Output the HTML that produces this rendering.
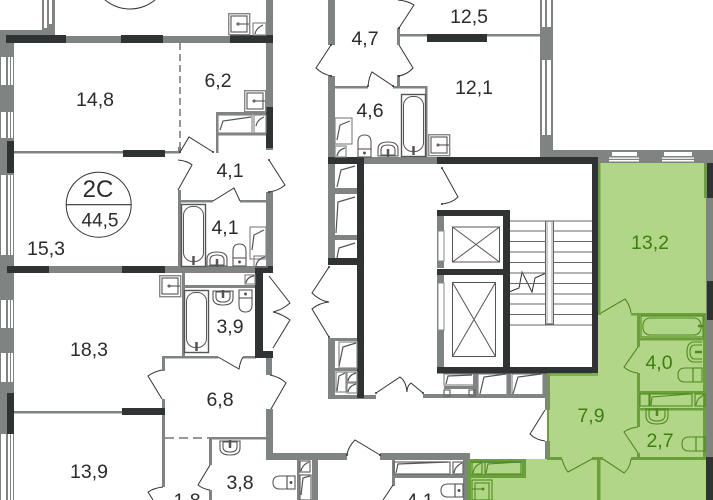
<!DOCTYPE html>
<html><head><meta charset="utf-8"><style>
html,body{margin:0;padding:0;background:#fff;width:713px;height:500px;overflow:hidden}
svg{display:block}
text{font-family:"Liberation Sans",sans-serif;font-size:19.5px;fill:#2b2b2b;text-anchor:middle}
.g text,text.g{fill:#3f7e10}
</style></head><body>
<svg width="713" height="500" viewBox="0 0 713 500" xmlns="http://www.w3.org/2000/svg">
<defs>
<g id="bath" fill="none"><rect x=".5" y=".5" width="24" height="62" stroke-width="1.4"/><rect x="2.5" y="2.5" width="20" height="55" rx="9" stroke-width="1"/><path d="M12.5 52v9" stroke-width="2.5"/></g>
<g id="sink" fill="none" stroke-width="1.1"><path d="M1 15V8Q1 1 11 1T21 8v7z"/><path d="M4 14V9Q4 4 11 4T18 9v5z"/><path d="M11 8v8" stroke-width="2.5"/></g>
<g id="sinkd" fill="none" stroke-width="1.1"><path d="M1 1V8Q1 15 11 15T21 8V1z"/><path d="M4 2V7Q4 12 11 12T18 7V2z"/><path d="M11 0v8" stroke-width="2.5"/></g>
<g id="toil" fill="none" stroke-width="1.1"><path d="M1 15V8Q1 1 7.5 1T14 8v7z"/><rect x="1" y="15" width="13" height="8"/><circle cx="7.5" cy="19" r=".9" fill="#333"/></g>
<g id="toilh" fill="none" stroke-width="1.1"><path d="M15 1H8Q1 1 1 7.5T8 14h7z"/><rect x="15" y="1" width="8" height="13"/><circle cx="19" cy="7.5" r=".9" fill="#333"/></g>
<g id="bsink" fill="none"><rect x=".7" y=".7" width="21" height="21" stroke="#888" stroke-width="1.4"/><rect x="3" y="3" width="16" height="16" stroke="#444" stroke-width="1"/><path d="M11 11h10" stroke="#444" stroke-width="1"/><circle cx="10" cy="11" r="1" stroke="#444"/></g>
</defs>
<rect width="713" height="500" fill="#fff"/>

<!-- green apartment -->
<path d="M598 163H706V500H467V459H547V373H598Z" fill="#b1d688"/>

<!-- gray walls -->
<g fill="#7f8382">
<rect x="0" y="30" width="14" height="470"/>
<rect x="0" y="30" width="54" height="6"/>
<rect x="42" y="0" width="13" height="36"/>
<rect x="66" y="36" width="55" height="7"/><rect x="163" y="36" width="67" height="7"/>
<rect x="266" y="0" width="7" height="150"/>
<rect x="266" y="192" width="7" height="76"/>
<rect x="266" y="357" width="6" height="18"/>
<rect x="266" y="409" width="7" height="51"/>
<rect x="266" y="453" width="81" height="7"/>
<rect x="380" y="453" width="90" height="7"/>
<rect x="14" y="151" width="166" height="2.5"/>
<rect x="178" y="147" width="3" height="6"/>
<rect x="178" y="190" width="3" height="78"/>
<rect x="178" y="200" width="35" height="2.5"/><rect x="240" y="200" width="27" height="2.5"/>
<rect x="216" y="113" width="2.5" height="40"/>
<rect x="216" y="112" width="52" height="2.5"/><rect x="216" y="133" width="52" height="2.5"/>
<rect x="49" y="266" width="73" height="7"/><rect x="165" y="266" width="90" height="7"/>
<rect x="182" y="273" width="3" height="84"/>
<rect x="184" y="285" width="71" height="3"/>
<rect x="162" y="356" width="56" height="2.5"/><rect x="243" y="356" width="13" height="2.5"/>
<rect x="162" y="356" width="3" height="15"/><rect x="162" y="399" width="3" height="88"/>
<rect x="14" y="411" width="108" height="2.5"/>
<rect x="209" y="437" width="58" height="2.5"/>
<rect x="209" y="437" width="3" height="28"/><rect x="209" y="490" width="3" height="10"/>
<rect x="297" y="460" width="2.5" height="40"/><rect x="312" y="460" width="6" height="40"/>
<!-- center left -->
<rect x="328" y="0" width="7" height="45"/><rect x="328" y="76" width="7" height="82"/>
<rect x="328" y="164" width="7" height="94"/>
<rect x="335" y="188" width="22" height="6"/><rect x="335" y="235" width="22" height="5"/>
<rect x="328" y="338" width="7" height="60"/>
<rect x="335" y="338" width="22" height="3"/><rect x="335" y="368" width="22" height="3"/>
<rect x="328" y="395" width="48" height="4"/><rect x="423" y="394" width="124" height="4"/>
<rect x="335" y="86" width="33" height="2.5"/><rect x="393" y="86" width="34" height="2.5"/>
<rect x="397" y="75" width="3" height="12"/><rect x="397" y="28" width="3" height="17"/>
<rect x="400" y="34" width="140" height="2.5"/>
<rect x="425" y="86" width="2.5" height="72"/>
<rect x="540" y="0" width="13" height="158"/>
<rect x="540" y="150" width="173" height="13"/>
<rect x="364" y="157" width="73" height="7"/>
<rect x="437" y="216" width="7" height="52"/><rect x="437" y="275" width="7" height="92"/>
<rect x="473" y="373" width="5" height="23"/><rect x="507" y="373" width="4" height="23"/><rect x="543" y="373" width="5" height="23"/>
<rect x="444" y="386" width="30" height="3"/>
<rect x="545" y="373" width="5" height="37"/><rect x="545" y="441" width="5" height="18"/>
<rect x="392" y="460" width="3" height="26"/>
<rect x="392" y="474" width="72" height="4"/>
<rect x="463" y="460" width="5" height="40"/>
<rect x="706" y="150" width="7" height="350"/>
</g>

<!-- windows -->
<g fill="#fff">
<path d="M1 57h5v28H1zM8 57h2v28H8zM11 57h2v28h-2z"/>
<path d="M1 112h5v26H1zM8 112h2v26H8zM11 112h2v26h-2z"/>
<path d="M1 175h5v80H1zM8 175h2v80H8zM11 175h2v80h-2z"/>
<path d="M1 300h5v28H1zM8 300h2v28H8zM11 300h2v28h-2z"/>
<path d="M1 353h5v29H1zM8 353h2v29H8zM11 353h2v29h-2z"/>
<path d="M1 434h5v66H1zM8 434h2v66H8zM11 434h2v66h-2z"/>
<path d="M44 0h3v28h-3zM49 0h3v24h-3z"/>
<path d="M542 0h3v27h-3zM547 0h4v27h-4zM542 60h3v75h-3zM547 60h4v75h-4z"/>
<rect x="612" y="152" width="25" height="4"/><rect x="609" y="157.500" width="30" height="1.300"/><rect x="609" y="160" width="30" height="1.500"/>
<rect x="664" y="152" width="28" height="4"/><rect x="662" y="157.500" width="32" height="1.300"/><rect x="662" y="160" width="32" height="1.500"/>
<rect x="438" y="231" width="6" height="30"/><rect x="438" y="283" width="6" height="47"/>
</g>

<!-- dark walls -->
<g fill="#2f3333">
<rect x="6" y="35" width="60" height="8"/><rect x="121" y="35" width="42" height="8"/><rect x="230" y="35" width="43" height="8"/>
<rect x="266" y="107" width="7" height="41"/>
<rect x="7" y="141" width="7" height="32"/>
<rect x="123" y="150" width="42" height="7"/>
<rect x="7" y="266" width="42" height="7"/><rect x="122" y="266" width="43" height="7"/>
<rect x="255" y="266" width="18" height="7"/><rect x="255" y="266" width="8" height="92"/><rect x="255" y="351" width="18" height="7"/>
<rect x="122" y="408" width="43" height="7"/>
<rect x="7" y="393" width="7" height="41"/>
<rect x="427" y="34" width="60" height="8"/>
<rect x="328" y="157" width="36" height="7"/><rect x="437" y="157" width="161" height="7"/>
<rect x="357" y="157" width="7" height="241"/>
<rect x="328" y="258" width="29" height="7"/>
<rect x="437" y="210" width="73" height="6"/><rect x="503" y="210" width="7" height="163"/>
<rect x="437" y="269" width="66" height="6"/>
<rect x="437" y="367" width="155" height="6.500"/><rect x="592" y="164" width="6" height="209"/>
<rect x="707" y="163" width="6" height="35"/><rect x="707" y="281" width="6" height="39"/><rect x="706" y="457" width="7" height="43"/>
</g>

<!-- dashed -->
<path d="M180 43V147" stroke="#777" stroke-width="1.500" stroke-dasharray="7 4" fill="none"/>
<path d="M165 438H209" stroke="#777" stroke-width="1.500" stroke-dasharray="9 5" fill="none"/>

<!-- doors -->
<g fill="none" stroke="#333" stroke-width="1">
<path d="M180 152L189 137L213 152"/>
<path d="M178 160Q188 161 192 165L178 190"/>
<path d="M269 160L285 185Q278 191 269 192"/>
<path d="M213 201L234 188L240 201"/>
<path d="M269 276L290 303Q282 310 273 312Q282 314 290 320L273 348"/>
<path d="M218 357L239 369Q240 362 243 357"/>
<path d="M162 370Q153 372 148 376L162 399"/>
<path d="M270 375Q280 377 286 383L271 409"/>
<path d="M210 465L198 485Q203 489 210 490"/>
<path d="M163 487Q154 488 148 492L153 500"/>
<path d="M331 45L316 68Q322 74 331 76"/>
<path d="M399 28L414 5Q408 1 398 0"/>
<path d="M399 45L413 68Q408 74 399 76"/>
<path d="M368 86Q369 77 372 72L393 86"/>
<path d="M442 168L458 197Q452 203 442 204"/>
<path d="M329 267L312 293Q320 301 329 302Q319 303 312 309L329 337"/>
<path d="M376 393L400 377Q406 381 407 392Q407 386 411 383L423 393"/>
<path d="M545 410L530 434Q536 440 545 441"/>
<path d="M347 455Q348 447 355 440L380 455"/>
<path d="M393 485L383 500"/>
<path d="M509 292L519 288L522 272L532 292L535 278L546 273"/>
</g>
<g fill="#333"><circle cx="180" cy="152" r="1"/><circle cx="213" cy="152" r="1"/><circle cx="269" cy="160" r="1"/><circle cx="269" cy="192" r="1"/><circle cx="331" cy="45" r="1"/><circle cx="331" cy="76" r="1"/><circle cx="399" cy="28" r="1"/><circle cx="399" cy="76" r="1"/><circle cx="368" cy="86" r="1"/><circle cx="393" cy="86" r="1"/><circle cx="376" cy="393" r="1"/><circle cx="423" cy="393" r="1"/><circle cx="329" cy="267" r="1"/><circle cx="329" cy="337" r="1"/><circle cx="442" cy="168" r="1"/><circle cx="442" cy="204" r="1"/><circle cx="347" cy="455" r="1"/><circle cx="380" cy="455" r="1"/></g>

<!-- top circle -->
<circle cx="130" cy="-30" r="39" fill="none" stroke="#333" stroke-width="1"/>

<!-- fixtures -->
<g stroke="#555">
<use href="#bsink" x="228" y="13"/>
<use href="#bsink" x="244" y="90"/>
<use href="#bsink" x="159" y="275"/>
<use href="#bsink" x="428" y="134"/>
<use href="#bath" x="181" y="204"/>
<use href="#bath" x="184" y="290"/>
<use href="#bath" x="401" y="94"/>
<use href="#sink" x="206" y="251"/>
<use href="#sink" x="377" y="141"/>
<use href="#sinkd" x="212" y="290"/>
<use href="#sinkd" x="219" y="440"/>
<use href="#toil" x="232" y="243"/>
<use href="#toil" x="357" y="134"/>
<use href="#toil" x="238" y="290" transform="rotate(180 245.500 301.500)"/>
<use href="#toilh" x="272" y="475"/>
<use href="#toilh" x="440" y="483"/>
<g fill="none" stroke-width="1.200">
<rect x="253" y="23" width="13" height="12" stroke="#888"/><path d="M255 34Q256 28 263 25"/>
<rect x="218" y="115" width="34" height="18" stroke="#888"/><path d="M220 130L223 121L251 117"/>
<rect x="254" y="115" width="12" height="18" stroke="#888"/><path d="M256 126Q257 120 264 117"/>
<rect x="250" y="227" width="16" height="32" stroke="#888"/><path d="M252 250L254 235L264 230"/>
<rect x="254" y="256" width="13" height="11" stroke="#888"/><path d="M256 266Q257 259 265 257"/>
<rect x="245" y="275" width="10" height="9" stroke="#888"/><path d="M246 283Q247 277 254 276"/>
<rect x="335" y="118" width="17" height="26" stroke="#888"/><path d="M337 140L340 125L350 121"/>
<rect x="335" y="146" width="11" height="11" stroke="#888"/><path d="M337 156Q338 150 345 148"/>
<path d="M337 187L341 170L355 166"/>
<path d="M336 233L338 202L355 197"/>
<path d="M337 258L339 248L355 243"/>
<rect x="339" y="342" width="18" height="26" stroke="#888"/><path d="M339 366L343 347L356 343"/>
<rect x="336" y="372" width="10" height="20" stroke="#888"/><path d="M337 391L339 376L345 373"/>
<rect x="347" y="372" width="10" height="10" stroke="#888"/><path d="M348 381Q349 375 356 373"/>
<rect x="347" y="383" width="10" height="10" stroke="#888"/><path d="M348 392Q349 386 356 384"/>
<rect x="444" y="374" width="30" height="11" stroke="#888"/><path d="M446 384L448 376L472 375"/>
<rect x="444" y="390" width="6" height="6" stroke="#666"/><rect x="469" y="390" width="6" height="6" stroke="#666"/>
<rect x="478" y="374" width="29" height="21" stroke="#888"/><path d="M480 394L484 377L506 374"/>
<rect x="512" y="374" width="31" height="21" stroke="#888"/><path d="M513 394L518 377L541 374"/>
<rect x="394" y="462" width="56" height="12" stroke="#666"/><path d="M396 473L398 464L448 462"/>
<rect x="453" y="462" width="10" height="12" stroke="#666"/><path d="M454 473Q455 466 462 463"/>
<rect x="300" y="461" width="10" height="11" stroke="#666"/><path d="M301 471Q302 465 309 462"/>
<rect x="300" y="475" width="11" height="25" stroke="#666"/><path d="M301 495L303 478L310 476"/>
</g>
</g>

<!-- elevators -->
<g fill="none" stroke="#555" stroke-width="1">
<rect x="452.500" y="227" width="47" height="35"/><path d="M452.500 227L499.500 262M499.500 227L452.500 262"/>
<rect x="452.500" y="282.500" width="43" height="74"/><path d="M452.500 282.500L495.500 356.500M495.500 282.500L452.500 356.500"/>
<rect x="438" y="231" width="6" height="30" stroke="#888"/><rect x="438" y="283" width="6" height="47" stroke="#888"/>
<path d="M510 221H592M510 231H592M510 241.500H592M510 252H592M510 262.500H592M510 273H592M510 283.500H592M510 294H592M510 304H592M510 314.500H592M510 325H592" stroke="#666"/>
</g>
<rect x="545.500" y="221" width="8" height="103" fill="#ccc" stroke="#666"/>
<rect x="548" y="222" width="3" height="101" fill="#fff"/>

<!-- green walls -->
<g fill="#6a9f3b">
<rect x="598" y="163" width="2.500" height="150"/>
<rect x="598" y="313" width="3" height="2"/><rect x="631" y="313" width="75" height="2.500"/>
<rect x="547" y="373" width="51" height="3" opacity=".7"/>
<rect x="547" y="373" width="2" height="85"/>
<rect x="637" y="313" width="3" height="34"/><rect x="637" y="373" width="3" height="54"/><rect x="637" y="453" width="3" height="5"/>
<rect x="640" y="338" width="66" height="2.500"/>
<rect x="640" y="391" width="66" height="2.500"/><rect x="637" y="408" width="69" height="2.500"/>
<rect x="547" y="457" width="15" height="3"/><rect x="592" y="457" width="11" height="3"/><rect x="631" y="457" width="75" height="3"/>
<rect x="597" y="459" width="3.500" height="41"/>
<rect x="467" y="460" width="4" height="40"/>
<rect x="470" y="459" width="55" height="4"/><rect x="470" y="474" width="55" height="4"/>
<rect x="522" y="459" width="4" height="19"/>
<rect x="704" y="163" width="2.500" height="35"/><rect x="703" y="315" width="3" height="142"/>
</g>
<g fill="none" stroke="#4f8a1f" stroke-width="1.100">
<path d="M601 313L625 299Q630 305 631 313"/>
<path d="M638 347L624 367Q629 372 638 373"/>
<path d="M638 427Q629 428 624 432L638 453"/>
<path d="M562 459Q564 467 568 472L592 459"/>
<path d="M603 459L624 473Q630 468 631 459"/>
<rect x="641" y="316" width="62" height="21"/><rect x="643" y="318" width="58" height="17" rx="7"/><path d="M698 326h5" stroke-width="2.500"/>
<path d="M702 342H694Q687 342 687 352T694 362H702"/><path d="M702 345H695Q690 345 690 352T695 359H702"/><path d="M695 352h7" stroke-width="2.500"/>
<path d="M693 368H685Q678 368 678 375T685 382H693z"/><rect x="693" y="368" width="9" height="14"/>
<path d="M696 437H689Q682 437 682 444T689 451H696z"/><rect x="696" y="437" width="9" height="14"/>
<path d="M646 409V416Q646 424 657 424T668 416V409z"/><path d="M649 410V415Q649 421 657 421T665 415V410z"/><path d="M657 408v8" stroke-width="2.500"/>
<rect x="640" y="394" width="9" height="12"/>
<rect x="650" y="394" width="42" height="12"/><path d="M651 405L652 397L690 394"/>
<rect x="695" y="394" width="10" height="12"/><path d="M696 405Q697 398 704 395"/>
<rect x="472" y="462" width="10" height="12"/><path d="M473 473Q474 466 481 463"/>
<rect x="485" y="462" width="36" height="12"/><path d="M486 473L488 464L520 462"/>
<rect x="472" y="480" width="20" height="20"/><rect x="475" y="483" width="14" height="17"/><path d="M472 489h12"/><circle cx="483" cy="489" r="1"/>
</g>

<!-- badge -->
<circle cx="98.700" cy="204.700" r="32.500" fill="#fff" stroke="#333" stroke-width="1"/>
<path d="M66 204.700H131" stroke="#333" stroke-width="1.200"/>
<text x="98" y="197" style="font-size:24px">2C</text>
<text x="100" y="226.500" style="font-size:19px">44,5</text>

<!-- labels -->
<text x="95" y="106">14,8</text>
<text x="218" y="87">6,2</text>
<text x="230" y="177">4,1</text>
<text x="225" y="234">4,1</text>
<text x="46" y="255">15,3</text>
<text x="89" y="356">18,3</text>
<text x="230" y="333">3,9</text>
<text x="220" y="406">6,8</text>
<text x="89" y="478">13,9</text>
<text x="240" y="489">3,8</text>
<text x="187" y="507">1,8</text>
<text x="365" y="45">4,7</text>
<text x="469" y="23">12,5</text>
<text x="474" y="94">12,1</text>
<text x="370" y="117">4,6</text>
<text x="420" y="507">4,1</text>
<text class="g" x="650" y="249">13,2</text>
<text class="g" x="659" y="369">4,0</text>
<text class="g" x="660" y="447">2,7</text>
<text class="g" x="591" y="422">7,9</text>
</svg>
</body></html>
